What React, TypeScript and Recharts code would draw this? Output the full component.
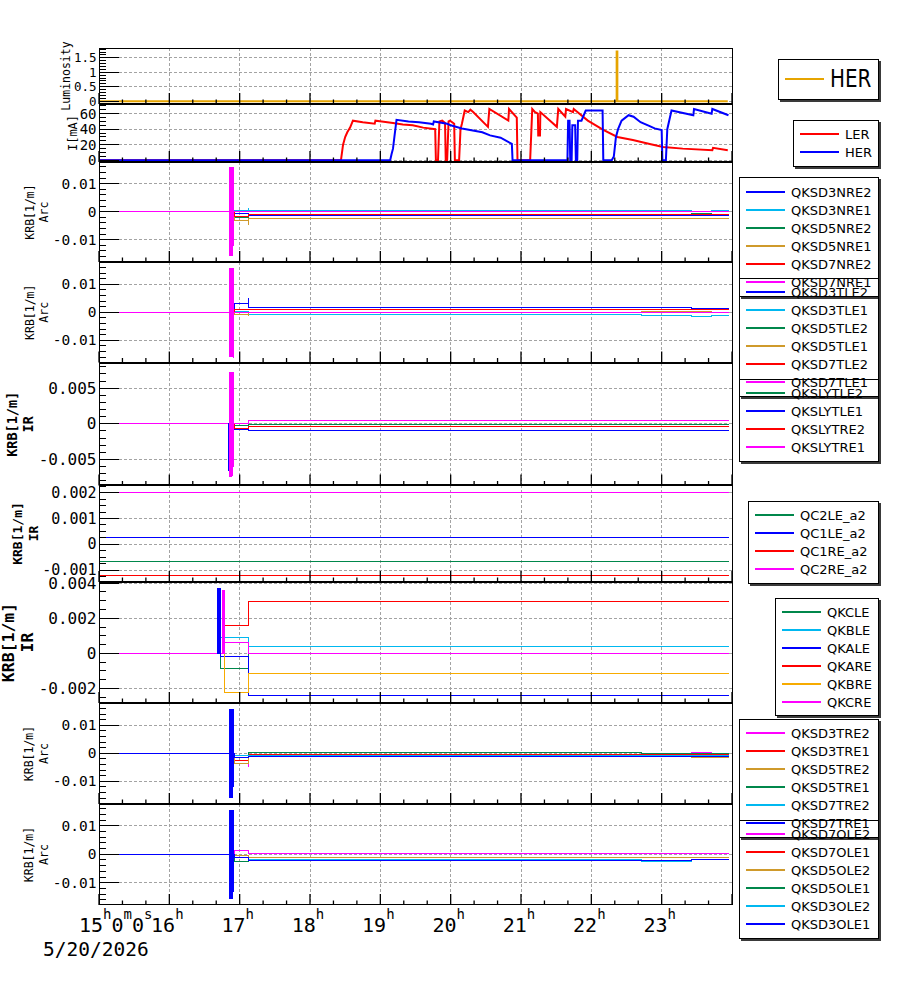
import React from "react";
import { LineChart, Line, XAxis, YAxis, CartesianGrid } from "recharts";

const MONO = "'DejaVu Sans Mono', monospace";
const SANS = "'DejaVu Sans', sans-serif";
const PLOT_L = 99;
const PLOT_R = 732;
const PAD = 14;
const LAST_PAD = 72;

// time axis, hours of 5/20/2026
const timeDomain: [number, number] = [15, 24];
const hourTicks = [15, 16, 17, 18, 19, 20, 21, 22, 23];
const hourLabels = ["15h0m0s", "16h", "17h", "18h", "19h", "20h", "21h", "22h", "23h"];
const dateLabel = "5/20/2026";
const gridHours = [16, 17, 18, 19, 20, 21, 22, 23];

const BLUE = "#0000ff";
const CYAN = "#00b8f0";
const GREEN = "#00874b";
const GOLD = "#cf9a2b";
const RED = "#ff0000";
const MAGENTA = "#ff00ff";
const ORANGE = "#f7ab00";
const LUM = "#e6a400";

// luminosity
const lumT = [15, 22.36, 22.36, 22.37, 22.37, 23.94];
const lumV = [0, 0, 1.72, 1.72, 0, 0];

// beam currents [hour, mA]
const lerPts: [number, number][] = [
  [15, 0], [18.44, 0], [18.47, 20], [18.5, 30], [18.53, 36], [18.57, 42], [18.61, 51],
  [18.75, 49], [18.92, 47], [18.93, 51], [19.02, 50], [19.18, 48], [19.32, 46], [19.46, 45],
  [19.61, 42], [19.78, 40], [19.79, 0], [19.82, 0], [19.84, 50], [19.88, 51], [19.92, 48],
  [19.93, 0], [19.95, 0], [19.97, 50], [19.99, 51], [20.05, 47], [20.06, 0], [20.12, 0],
  [20.14, 40], [20.16, 47], [20.2, 64], [20.25, 62], [20.28, 65], [20.32, 62], [20.53, 43],
  [20.55, 66], [20.82, 51], [20.83, 66], [20.94, 55], [20.95, 0], [21.13, 0], [21.16, 66],
  [21.2, 62], [21.24, 60], [21.245, 32], [21.27, 32], [21.275, 62], [21.51, 43], [21.53, 66],
  [21.63, 56], [21.64, 66], [21.74, 62], [21.75, 66], [21.95, 51], [22.17, 39], [22.37, 30],
  [22.59, 26], [22.83, 21], [23.02, 17], [23.3, 15], [23.72, 13], [23.73, 16], [23.94, 13],
];
const herPts: [number, number][] = [
  [15, 0], [19.14, 0], [19.16, 8], [19.18, 15], [19.2, 30], [19.23, 52], [19.4, 50],
  [19.55, 49], [19.72, 47], [19.75, 46], [19.76, 50], [19.95, 47], [20.0, 45], [20.16, 41],
  [20.45, 36], [20.56, 32], [20.71, 29], [20.87, 21], [20.88, 0], [21.66, 0], [21.67, 51],
  [21.69, 51], [21.7, 0], [21.72, 0], [21.73, 45], [21.77, 45], [21.78, 0], [21.8, 0],
  [21.81, 51], [21.86, 51], [21.92, 64], [22.16, 64], [22.17, 0], [22.29, 0], [22.32, 5],
  [22.35, 30], [22.38, 40], [22.43, 51], [22.53, 58], [22.6, 56], [22.7, 49], [22.83, 44],
  [22.9, 41], [23.0, 39], [23.01, 0], [23.06, 0], [23.08, 40], [23.14, 64], [23.45, 58],
  [23.46, 66], [23.71, 60], [23.72, 66], [23.95, 58],
];

// KRB arc, NRE group
const nreT = [15, 16.92, 17.12, 17.123, 22.72, 23.43, 23.71, 23.96];
const QKSD3NRE2 = [0, -0.0006, -0.0012, -0.0012, -0.0012, -0.0015, -0.0012, -0.0012];
const QKSD3NRE1 = [0, 0.0003, 0.0013, 0.0005, 0.0005, 0.0001, 0.0005, 0.0005];
const QKSD5NRE2 = [0, -0.002, -0.0009, -0.0009, -0.0009, -0.0006, -0.0009, -0.0009];
const QKSD5NRE1 = [0, -0.0033, -0.0045, -0.0023, -0.0023, -0.0023, -0.0023, -0.0023];
const QKSD7NRE2 = [0, -0.0018, -0.0011, -0.0011, -0.0011, -0.0011, -0.0011, -0.0011];
const QKSD7NRE1 = [0, 0, 0.0001, 0.0001, 0.0002, 0.0002, 0.0002, 0.0002];

// KRB arc, TLE group
const tleT = [15, 16.92, 17.12, 17.123, 22.72, 23.43, 23.71, 23.96];
const QKSD3TLE2 = [0, 0.0032, 0.005, 0.0018, 0.0018, 0.0014, 0.0014, 0.0014];
const QKSD3TLE1 = [0, 0.0002, -0.0007, -0.0007, -0.001, -0.0013, -0.001, -0.001];
const QKSD5TLE2 = [0, 0, 0, 0, 0, 0, 0, 0];
const QKSD5TLE1 = [0, -0.0006, -0.001, 0, 0.0004, 0.0004, 0, 0];
const QKSD7TLE2 = [0, 0.001, 0.0011, 0.0011, 0.0011, 0.0011, 0.0011, 0.0011];
const QKSD7TLE1 = [0, 0, 0, 0, 0, 0, 0, 0];

// KRB IR, SLY group
const slyT = [15, 16.92, 17.12, 23.96];
const QKSLYTLE2 = [0, -0.0003, -0.0001, -0.0001];
const QKSLYTLE1 = [0, -0.0008, -0.0009, -0.0009];
const QKSLYTRE2 = [0, -0.0006, -0.0004, -0.0004];
const QKSLYTRE1 = [0, 0, 0.0004, 0.0004];

// KRB IR, QC a2
const qcT = [15, 23.96];
const QC2LE_a2 = [-0.00065, -0.00065];
const QC1LE_a2 = [0.00026, 0.00026];
const QC1RE_a2 = [-0.0012, -0.0012];
const QC2RE_a2 = [0.00202, 0.00202];

// KRB IR, QK group
const qkT = [15, 16.73, 16.78, 17.12, 23.96];
const QKCLE = [0, -0.00087, -0.00087, 0, 0];
const QKBLE = [0, 0.00092, 0.00092, 0.0004, 0.0004];
const QKALE = [0, -0.00017, -0.00017, -0.0024, -0.0024];
const QKARE = [0, 0, 0.00156, 0.00295, 0.00295];
const QKBRE = [0, 0, -0.00225, -0.00116, -0.00116];
const QKCRE = [0, 0, 0.00064, 0, 0];

// KRB arc, TRE group
const treT = [15, 16.92, 17.12, 17.123, 22.72, 23.43, 23.71, 23.96];
const QKSD3TRE2 = [0, -0.0035, -0.0048, -0.001, -0.001, 0.0004, -0.001, -0.001];
const QKSD3TRE1 = [0, -0.0024, -0.0024, -0.0004, -0.0004, -0.0004, -0.0004, -0.0004];
const QKSD5TRE2 = [0, -0.0035, -0.0035, -0.0006, -0.0006, -0.0014, -0.0014, -0.0014];
const QKSD5TRE1 = [0, -0.0006, -0.0006, 0.0004, 0, 0, 0, 0];
const QKSD7TRE2 = [0, -0.0006, -0.0006, -0.0006, -0.0006, -0.0006, -0.0006, -0.0006];
const QKSD7TRE1 = [0, -0.0014, -0.0014, -0.001, -0.001, -0.001, -0.001, -0.001];

// KRB arc, OLE group
const oleT = [15, 16.92, 17.12, 22.72, 23.43, 23.96];
const QKSD7OLE2 = [0, 0.0015, 0.0003, 0.0003, 0.0003, 0.0003];
const QKSD7OLE1 = [0, -0.0006, -0.001, -0.001, -0.001, -0.001];
const QKSD5OLE2 = [0, -0.0006, -0.001, -0.001, -0.001, -0.001];
const QKSD5OLE1 = [0, -0.0027, -0.0022, -0.0022, -0.002, -0.002];
const QKSD3OLE2 = [0, -0.0012, -0.002, -0.0027, -0.002, -0.002];
const QKSD3OLE1 = [0, -0.0012, -0.0022, -0.0022, -0.0017, -0.0017];

// fast excursions around 16.7-16.9h
const burstT = [16.845, 16.851, 16.857, 16.863, 16.869, 16.875, 16.881, 16.887, 16.893, 16.899, 16.905, 16.911, 16.917];
const burstNRE = [0.0159, -0.0157, 0.0159, -0.0156, 0.0158, -0.0157, 0.0159, -0.0155, 0.0158, -0.0156, 0.0157, -0.0121, 0.015];
const burstTLE = [0.0157, -0.0158, 0.0157, -0.0159, 0.0157, -0.0157, 0.0157, -0.0158, 0.0157, -0.0156, 0.0157, -0.016, 0.015];
const burstSLY = [0.0072, -0.0074, 0.0072, -0.0073, 0.0072, -0.0074, 0.0072, -0.0073, 0.0072, -0.007, 0.0072, -0.006, 0.007];
const burstSLYBlueT = [16.838, 16.842, 16.846];
const burstSLYBlue = [-0.0066, 0, -0.0062];
const burstTRE = [0.0158, -0.0159, 0.0158, -0.0159, 0.0158, -0.0159, 0.0158, -0.0158, 0.0158, -0.015, 0.0158, -0.012, 0.015];
const burstOLE = [0.0155, -0.0156, 0.0155, -0.0156, 0.0155, -0.0156, 0.0155, -0.0156, 0.0155, -0.015, 0.0155, -0.013, 0.015];
const burstQKAT = [16.675, 16.68, 16.685, 16.69, 16.695, 16.7, 16.705, 16.71, 16.715, 16.72, 16.725, 16.73];
const burstQKA = [0.0037, 0, 0.0037, 0, 0.0037, 0, 0.0037, 0, 0.0037, 0, 0.0037, 0];
const burstQKCT = [16.75, 16.755, 16.76, 16.765, 16.77, 16.775, 16.78, 16.785];
const burstQKC = [0.0036, 0, 0.0036, 0, 0.0036, 0, 0.0036, 0];

type Pt = { t: number; v: number };
type Series = { name: string; color: string; pts: Pt[]; width?: number; linear?: boolean; legend?: boolean };
type LegendCfg = { left: number; top: number; w: number; h: number; first: number; step: number; font: number; squeeze?: number };
type Panel = {
  top: number; bottom: number; domain: [number, number];
  majors: number[]; labels: string[]; minor: number; tickFont: number;
  title: string[]; titleX: number[]; titleFont: number; bold?: boolean;
  series: Series[]; legend: LegendCfg;
};

const zip = (t: number[], v: number[]): Pt[] => t.map((x, i) => ({ t: x, v: v[i] }));
const fromPairs = (p: [number, number][]): Pt[] => p.map(([t, v]) => ({ t, v }));
const s = (name: string, color: string, t: number[], v: number[]): Series => ({ name, color, pts: zip(t, v) });
const burst = (name: string, color: string, t: number[], v: number[]): Series => ({ name, color, pts: zip(t, v), legend: false });

const arcTicks = [-0.01, 0, 0.01];
const arcLabels = ["-0.01", "0", "0.01"];

const panels: Panel[] = [
  {
    top: 48, bottom: 104, domain: [-0.098, 1.84], majors: [0, 0.5, 1, 1.5], labels: ["0", "0.5", "1", "1.5"],
    minor: 0.1, tickFont: 12.5, title: ["Luminosity"], titleX: [66], titleFont: 11.5,
    series: [{ name: "HER", color: LUM, pts: zip(lumT, lumV), width: 2, linear: true }],
    legend: { left: 778, top: 59, w: 101, h: 41, first: 78.5, step: 0, font: 24, squeeze: 0.83 },
  },
  {
    top: 104, bottom: 162, domain: [-2.2, 72.4], majors: [0, 20, 40, 60], labels: ["0", "20", "40", "60"],
    minor: 5, tickFont: 14, title: ["I[mA]"], titleX: [73], titleFont: 12,
    series: [
      { name: "LER", color: RED, pts: fromPairs(lerPts), width: 2, linear: true },
      { name: "HER", color: BLUE, pts: fromPairs(herPts), width: 2, linear: true },
    ],
    legend: { left: 793, top: 120, w: 86, h: 47, first: 134.3, step: 18, font: 13 },
  },
  {
    top: 162, bottom: 262, domain: [-0.018, 0.01775], majors: arcTicks, labels: arcLabels,
    minor: 0.002, tickFont: 14.5, title: ["KRB[1/m]", "Arc"], titleX: [30, 44], titleFont: 11.5,
    series: [
      s("QKSD3NRE2", BLUE, nreT, QKSD3NRE2), s("QKSD3NRE1", CYAN, nreT, QKSD3NRE1),
      s("QKSD5NRE2", GREEN, nreT, QKSD5NRE2), s("QKSD5NRE1", GOLD, nreT, QKSD5NRE1),
      s("QKSD7NRE2", RED, nreT, QKSD7NRE2), s("QKSD7NRE1", MAGENTA, nreT, QKSD7NRE1),
      burst("QKSD7NRE1", MAGENTA, burstT, burstNRE),
    ],
    legend: { left: 739, top: 177, w: 140, h: 120, first: 191.7, step: 18, font: 13 },
  },
  {
    top: 262, bottom: 362.5, domain: [-0.0179, 0.018], majors: arcTicks, labels: arcLabels,
    minor: 0.002, tickFont: 14.5, title: ["KRB[1/m]", "Arc"], titleX: [30, 44], titleFont: 11.5,
    series: [
      s("QKSD3TLE2", BLUE, tleT, QKSD3TLE2), s("QKSD3TLE1", CYAN, tleT, QKSD3TLE1),
      s("QKSD5TLE2", GREEN, tleT, QKSD5TLE2), s("QKSD5TLE1", GOLD, tleT, QKSD5TLE1),
      s("QKSD7TLE2", RED, tleT, QKSD7TLE2), s("QKSD7TLE1", MAGENTA, tleT, QKSD7TLE1),
      burst("QKSD7TLE1", MAGENTA, burstT, burstTLE),
    ],
    legend: { left: 739, top: 278, w: 140, h: 119, first: 291.7, step: 18, font: 13 },
  },
  {
    top: 362.5, bottom: 485, domain: [-0.00867, 0.00854], majors: [-0.005, 0, 0.005], labels: ["-0.005", "0", "0.005"],
    minor: 0.001, tickFont: 16, title: ["KRB[1/m]", "IR"], titleX: [12, 28], titleFont: 13.5, bold: true,
    series: [
      s("QKSLYTLE2", GREEN, slyT, QKSLYTLE2), s("QKSLYTLE1", BLUE, slyT, QKSLYTLE1),
      s("QKSLYTRE2", RED, slyT, QKSLYTRE2), s("QKSLYTRE1", MAGENTA, slyT, QKSLYTRE1),
      burst("QKSLYTLE1", BLUE, burstSLYBlueT, burstSLYBlue),
      burst("QKSLYTRE1", MAGENTA, burstT, burstSLY),
    ],
    legend: { left: 739, top: 379, w: 140, h: 83, first: 393.3, step: 17.8, font: 13 },
  },
  {
    top: 485, bottom: 582, domain: [-0.00146, 0.0023], majors: [-0.001, 0, 0.001, 0.002], labels: ["-0.001", "0", "0.001", "0.002"],
    minor: 0.00025, tickFont: 15, title: ["KRB[1/m]", "IR"], titleX: [17, 33], titleFont: 13, bold: true,
    series: [
      s("QC2LE_a2", GREEN, qcT, QC2LE_a2), s("QC1LE_a2", BLUE, qcT, QC1LE_a2),
      s("QC1RE_a2", RED, qcT, QC1RE_a2), s("QC2RE_a2", MAGENTA, qcT, QC2RE_a2),
    ],
    legend: { left: 748, top: 501, w: 131, h: 83, first: 515, step: 18, font: 13 },
  },
  {
    top: 582, bottom: 703, domain: [-0.00284, 0.00407], majors: [-0.002, 0, 0.002, 0.004], labels: ["-0.002", "0", "0.002", "0.004"],
    minor: 0.0005, tickFont: 16, title: ["KRB[1/m]", "IR"], titleX: [8.5, 27], titleFont: 16.5, bold: true,
    series: [
      s("QKCLE", GREEN, qkT, QKCLE), s("QKBLE", CYAN, qkT, QKBLE), s("QKALE", BLUE, qkT, QKALE),
      s("QKARE", RED, qkT, QKARE), s("QKBRE", ORANGE, qkT, QKBRE), s("QKCRE", MAGENTA, qkT, QKCRE),
      burst("QKALE", BLUE, burstQKAT, burstQKA), burst("QKCRE", MAGENTA, burstQKCT, burstQKC),
    ],
    legend: { left: 775, top: 598, w: 104, h: 118, first: 612.3, step: 18, font: 13 },
  },
  {
    top: 703, bottom: 804, domain: [-0.0181, 0.018], majors: arcTicks, labels: arcLabels,
    minor: 0.002, tickFont: 14.5, title: ["KRB[1/m]", "Arc"], titleX: [29, 44], titleFont: 11.5,
    series: [
      s("QKSD3TRE2", MAGENTA, treT, QKSD3TRE2), s("QKSD3TRE1", RED, treT, QKSD3TRE1),
      s("QKSD5TRE2", GOLD, treT, QKSD5TRE2), s("QKSD5TRE1", GREEN, treT, QKSD5TRE1),
      s("QKSD7TRE2", CYAN, treT, QKSD7TRE2), s("QKSD7TRE1", BLUE, treT, QKSD7TRE1),
      burst("QKSD7TRE1", BLUE, burstT, burstTRE),
    ],
    legend: { left: 739, top: 719, w: 140, h: 119, first: 733.3, step: 18, font: 13 },
  },
  {
    top: 804, bottom: 905, domain: [-0.0178, 0.01765], majors: arcTicks, labels: arcLabels,
    minor: 0.002, tickFont: 14.5, title: ["KRB[1/m]", "Arc"], titleX: [29, 44], titleFont: 11.5,
    series: [
      s("QKSD7OLE2", MAGENTA, oleT, QKSD7OLE2), s("QKSD7OLE1", RED, oleT, QKSD7OLE1),
      s("QKSD5OLE2", GOLD, oleT, QKSD5OLE2), s("QKSD5OLE1", GREEN, oleT, QKSD5OLE1),
      s("QKSD3OLE2", CYAN, oleT, QKSD3OLE2), s("QKSD3OLE1", BLUE, oleT, QKSD3OLE1),
      burst("QKSD3OLE1", BLUE, burstT, burstOLE),
    ],
    legend: { left: 739, top: 820, w: 140, h: 119, first: 834, step: 18, font: 13 },
  },
];

// every 20 minutes along the time axis
const xTicks = Array.from({ length: 28 }, (_, i) => 15 + i / 3);

function buildTicks(domain: [number, number], step: number) {
  const out: number[] = [];
  const a = Math.ceil(domain[0] / step - 1e-9);
  const b = Math.floor(domain[1] / step + 1e-9);
  for (let k = a; k <= b; k++) out.push(+(k * step).toFixed(9));
  return out;
}

const makeXTick = (bottom: number, withLabels: boolean) => (props: any) => {
  const { x, payload } = props;
  const v = payload.value as number;
  const hi = hourTicks.findIndex((h) => Math.abs(h - v) < 1e-6);
  const major = hi >= 0 || Math.abs(v - 24) < 1e-6;
  const len = major ? 11 : 4.5;
  let label = null;
  if (withLabels && hi >= 0) {
    const parts = hourLabels[hi].match(/\d+|[a-z]+/g) || [];
    label = (
      <text x={hi === 0 ? x - 20 : x - 2} y={bottom + 27} textAnchor={hi === 0 ? "start" : "middle"}
        fontSize={20} fontFamily={MONO} fill="#000">
        {parts.map((p, k) =>
          /\d/.test(p)
            ? <tspan key={k} dy={k === 0 ? 0 : 13}>{p}</tspan>
            : <tspan key={k} dy={-13} fontSize={14}>{p}</tspan>
        )}
      </text>
    );
  }
  return (
    <g>
      <line x1={x} x2={x} y1={bottom} y2={bottom - len} stroke="#000" strokeWidth={1.3} />
      {label}
      {withLabels && hi === 0 && (
        <text x={x - 56} y={bottom + 51} fontSize={19.5} fontFamily={MONO} fill="#000">{dateLabel}</text>
      )}
    </g>
  );
};

const makeYTick = (p: Panel) => (props: any) => {
  const { y, payload } = props;
  const i = p.majors.findIndex((m) => Math.abs(m - payload.value) < p.minor * 0.01);
  return (
    <g>
      <line x1={PLOT_L} x2={PLOT_L + (i >= 0 ? 20 : 7)} y1={y} y2={y} stroke="#000" strokeWidth={1}
        shapeRendering="crispEdges" />
      {i >= 0 && (
        <text x={PLOT_L - 2.5} y={y} textAnchor="end" dominantBaseline="central"
          fontSize={p.tickFont} fontFamily={MONO} fill="#000">{p.labels[i]}</text>
      )}
    </g>
  );
};

function PanelChart({ p, last }: { p: Panel; last: boolean }) {
  const H = p.bottom - p.top;
  const padBottom = last ? LAST_PAD : PAD;
  const cy = PAD + H / 2;
  const title = () => (
    <g>
      {p.title.map((line, k) => (
        <text key={k} x={p.titleX[k]} y={cy} transform={`rotate(-90 ${p.titleX[k]} ${cy})`}
          textAnchor="middle" dominantBaseline="central" fontSize={p.titleFont}
          fontWeight={p.bold ? "bold" : "normal"} fontFamily={MONO} fill="#000">{line}</text>
      ))}
    </g>
  );
  return (
    <div style={{ position: "absolute", left: 0, top: p.top - PAD }}>
      <LineChart width={900} height={H + PAD + padBottom}
        margin={{ top: PAD, right: 900 - PLOT_R, bottom: padBottom - 1, left: 0 }}>
        <CartesianGrid horizontalValues={p.majors} verticalValues={gridHours}
          stroke="#a3a3a3" strokeDasharray="3 2" shapeRendering="crispEdges" />
        <XAxis dataKey="t" type="number" domain={timeDomain} ticks={xTicks} interval={0} height={1}
          axisLine={false} tickLine={false} tick={makeXTick(PAD + H, last)} allowDataOverflow />
        <YAxis type="number" domain={p.domain} ticks={buildTicks(p.domain, p.minor)} interval={0}
          width={PLOT_L} axisLine={false} tickLine={false} tick={makeYTick(p)} allowDataOverflow
          label={title} />
        {p.series.map((sr, i) => (
          <Line key={i} data={sr.pts} dataKey="v" type={sr.linear ? "linear" : "stepAfter"}
            stroke={sr.color} strokeWidth={sr.width ?? 1} dot={false} activeDot={false}
            shapeRendering={sr.linear ? "auto" : "crispEdges"} isAnimationActive={false} />
        ))}
      </LineChart>
    </div>
  );
}

function LegendBox({ box, series }: { box: LegendCfg; series: Series[] }) {
  const items = series.filter((sr) => sr.legend !== false);
  const lh = Math.round(box.font * 1.3);
  return (
    <div style={{
      position: "absolute", left: box.left, top: box.top, width: box.w, height: box.h,
      border: "1px solid #000", boxShadow: "2px 2px 0 #3a3a3a", boxSizing: "border-box",
    }}>
      {items.map((sr, i) => {
        const c = Math.round(box.first + i * box.step - box.top - 1);
        return (
          <React.Fragment key={sr.name}>
            <div style={{ position: "absolute", left: 6, top: c - 1, width: 39, height: 1.5, background: sr.color }} />
            <div style={{
              position: "absolute", left: 51, top: c - lh / 2, height: lh, lineHeight: `${lh}px`,
              fontSize: box.font, fontFamily: SANS, color: "#000", whiteSpace: "nowrap",
              transform: box.squeeze ? `scaleX(${box.squeeze})` : undefined, transformOrigin: "left center",
            }}>{sr.name}</div>
          </React.Fragment>
        );
      })}
    </div>
  );
}

export default function App() {
  return (
    <div style={{ position: "absolute", left: 0, top: 0, width: 900, height: 984, background: "#fff" }}>
      {panels.map((p, i) => (
        <PanelChart key={i} p={p} last={i === panels.length - 1} />
      ))}
      {panels.map((p, i) => (
        <div key={`f${i}`} style={{
          position: "absolute", left: PLOT_L, top: p.top, width: PLOT_R - PLOT_L + 1,
          height: p.bottom - p.top, border: "1px solid #000", boxSizing: "border-box", pointerEvents: "none",
        }} />
      ))}
      {panels.map((p, i) => (
        <LegendBox key={`l${i}`} box={p.legend} series={p.series} />
      ))}
    </div>
  );
}
